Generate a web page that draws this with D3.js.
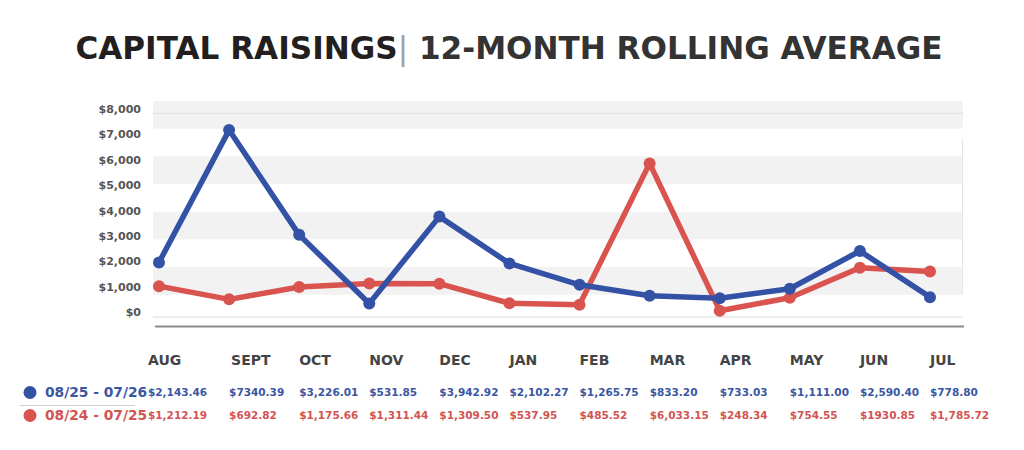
<!DOCTYPE html>
<html>
<head>
<meta charset="utf-8">
<script src="https://cdn.jsdelivr.net/npm/d3@7"></script>
<style>
  body { margin: 0; background: #fff; }
  text { font-family: "DejaVu Sans", sans-serif; }
</style>
</head>
<body>
<div id="root"></div>
<script>
// months + the two rolling-average series
var months = ["AUG", "SEPT", "OCT", "NOV", "DEC", "JAN", "FEB", "MAR", "APR", "MAY", "JUN", "JUL"];
var current = [2143.46, 7340.39, 3226.01, 531.85, 3942.92, 2102.27, 1265.75, 833.20, 733.03, 1111.00, 2590.40, 778.80];
var previous = [1212.19, 692.82, 1175.66, 1311.44, 1309.50, 537.95, 485.52, 6033.15, 248.34, 754.55, 1930.85, 1785.72];
// table text as printed (formatting is not consistent in the original)
var currentLabels = ["$2,143.46", "$7340.39", "$3,226.01", "$531.85", "$3,942.92", "$2,102.27", "$1,265.75", "$833.20", "$733.03", "$1,111.00", "$2,590.40", "$778.80"];
var previousLabels = ["$1,212.19", "$692.82", "$1,175.66", "$1,311.44", "$1,309.50", "$537.95", "$485.52", "$6,033.15", "$248.34", "$754.55", "$1930.85", "$1,785.72"];
var seriesNames = ["08/25 - 07/26", "08/24 - 07/25"];
var yTicks = [0, 1000, 2000, 3000, 4000, 5000, 6000, 7000, 8000];

var blue = "#3452a5", red = "#d9534f";
var blueText = "#3a56a3", redText = "#d25452";

var svg = d3.select("#root")
    .append("svg")
    .attr("width", 1024)
    .attr("height", 450);

var x = d3.scalePoint().domain(months).range([159, 930]);
var y = d3.scaleLinear().domain([0, 8000]).range([317, 113.3]);

// title
var title = svg.append("text")
    .attr("x", 509)
    .attr("y", 59)
    .attr("text-anchor", "middle")
    .attr("font-size", 31.1)
    .attr("font-weight", "bold");
title.append("tspan").attr("fill", "#231f20").text("CAPITAL RAISINGS");
title.append("tspan").attr("fill", "#a0a0a0").attr("font-weight", "normal").text("|");
title.append("tspan").attr("fill", "#333").text(" 12-MONTH ROLLING AVERAGE");

// striped background
var band = d3.scaleBand().domain(d3.range(8)).range([101, 322.4]);
svg.selectAll("rect.band")
    .data(d3.range(8).filter(function (d) { return d % 2 === 0; }))
    .enter()
    .append("rect")
    .attr("class", "band")
    .attr("x", 153)
    .attr("y", function (d) { return band(d); })
    .attr("width", 810)
    .attr("height", band.bandwidth())
    .attr("fill", "#f2f2f2");

// top and bottom grid lines
svg.selectAll("line.grid")
    .data([0, 8000])
    .enter()
    .append("line")
    .attr("class", "grid")
    .attr("x1", 153).attr("x2", 963)
    .attr("y1", function (d) { return y(d); })
    .attr("y2", function (d) { return y(d); })
    .attr("stroke", "#dcdcdc")
    .attr("stroke-width", 1);

svg.append("line")
    .attr("x1", 962.5).attr("x2", 962.5)
    .attr("y1", 139).attr("y2", 294)
    .attr("stroke", "#e4e4e4");

// bottom axis rule
svg.append("line")
    .attr("x1", 155).attr("x2", 964)
    .attr("y1", 326.5).attr("y2", 326.5)
    .attr("stroke", "#8a8a8a")
    .attr("stroke-width", 2);

// y labels
svg.selectAll("text.ytick")
    .data(yTicks)
    .enter()
    .append("text")
    .attr("class", "ytick")
    .attr("x", 141)
    .attr("y", function (d) { return y(d) - 4.5; })
    .attr("dy", "0.35em")
    .attr("text-anchor", "end")
    .attr("font-size", 11)
    .attr("font-weight", "bold")
    .attr("fill", "#555")
    .text(function (d) { return d3.format("$,")(d); });

// lines + dots
var line = d3.line()
    .x(function (d, i) { return x(months[i]); })
    .y(function (d) { return y(d); });

[[previous, red], [current, blue]].forEach(function (s) {
    svg.append("path")
        .datum(s[0])
        .attr("d", line)
        .attr("fill", "none")
        .attr("stroke", s[1])
        .attr("stroke-width", 5.5)
        .attr("stroke-linejoin", "round");
    svg.selectAll(null)
        .data(s[0])
        .enter()
        .append("circle")
        .attr("cx", function (d, i) { return x(months[i]); })
        .attr("cy", function (d) { return y(d); })
        .attr("r", 6)
        .attr("fill", s[1]);
});

// month row
var colX = function (i) { return x(months[i]) + (i === 0 ? -11 : 0); };

svg.selectAll("text.month")
    .data(months)
    .enter()
    .append("text")
    .attr("class", "month")
    .attr("x", function (d, i) { return colX(i) + (i === 1 ? 2 : 0); })
    .attr("y", 360)
    .attr("dy", "0.35em")
    .attr("font-size", 14)
    .attr("font-weight", "bold")
    .attr("fill", "#444")
    .text(function (d) { return d; });

// table rows
[[currentLabels, blueText, 392], [previousLabels, redText, 415]].forEach(function (r) {
    svg.selectAll(null)
        .data(r[0])
        .enter()
        .append("text")
        .attr("x", function (d, i) { return colX(i); })
        .attr("y", r[2])
        .attr("dy", "0.35em")
        .attr("font-size", 10.5)
        .attr("font-weight", "bold")
        .attr("fill", r[1])
        .text(function (d) { return d; });
});

// legend
var legend = svg.selectAll("g.legend")
    .data(seriesNames)
    .enter()
    .append("g")
    .attr("class", "legend")
    .attr("transform", function (d, i) { return "translate(30," + (392.5 + i * 23) + ")"; });
legend.append("circle")
    .attr("r", 6.5)
    .attr("fill", function (d, i) { return i === 0 ? blue : red; });
legend.append("text")
    .attr("x", 15)
    .attr("dy", "0.35em")
    .attr("font-size", 13.8)
    .attr("font-weight", "bold")
    .attr("fill", function (d, i) { return i === 0 ? blueText : redText; })
    .text(function (d) { return d; });

svg.append("line")
    .attr("x1", 20).attr("x2", 135)
    .attr("y1", 405.5).attr("y2", 405.5)
    .attr("stroke", "#cfcfcf");
</script>
</body>
</html>
